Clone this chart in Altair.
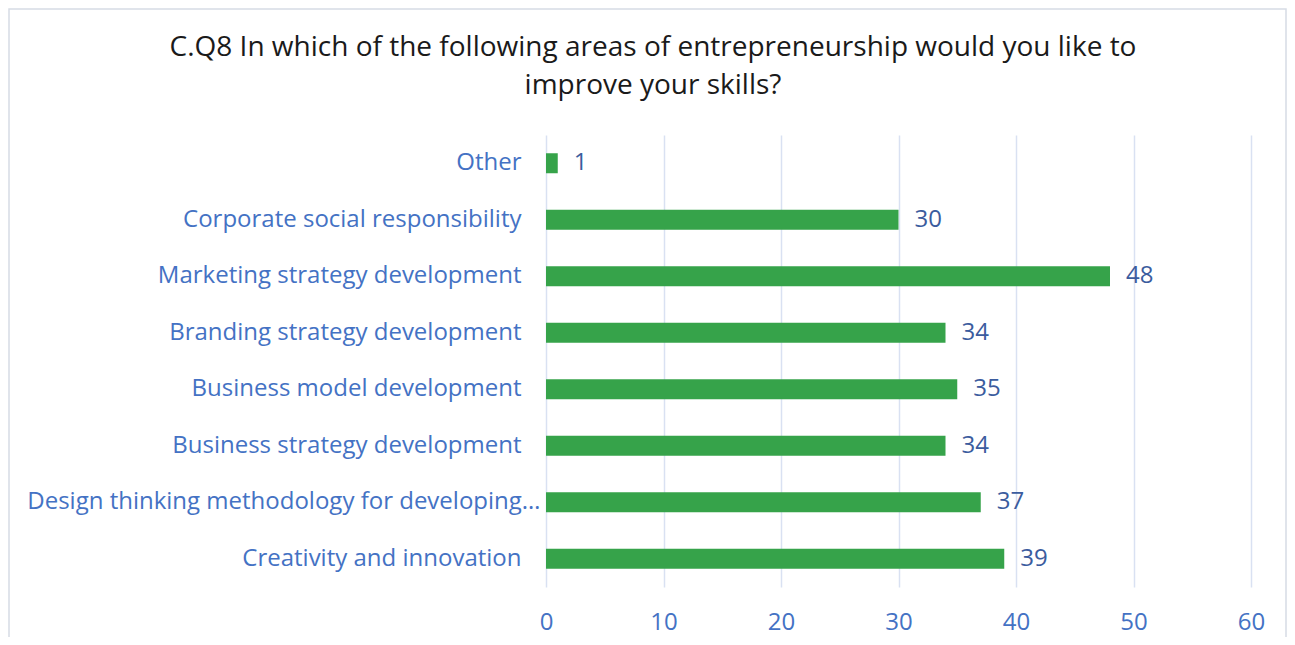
import altair as alt
import pandas as pd

categories = [
    "Other",
    "Corporate social responsibility",
    "Marketing strategy development",
    "Branding strategy development",
    "Business model development",
    "Business strategy development",
    "Design thinking methodology for developing…",
    "Creativity and innovation",
]
values = [1, 30, 48, 34, 35, 34, 37, 39]
x_ticks = [0, 10, 20, 30, 40, 50, 60]
title_lines = ["C.Q8 In which of the following areas of entrepreneurship would you like to",
               "improve your skills?"]

df = pd.DataFrame({"cat": categories, "val": values})

FONT = "Open Sans"
BLUE = "#4472C4"
GRID = "#D9E1F2"

y_enc = alt.Y("cat:N", sort=None, title=None,
              scale=alt.Scale(paddingInner=0.646, paddingOuter=0.323),
              axis=alt.Axis(domain=False, ticks=False, labelFontSize=24, labelFont=FONT,
                            labelColor=BLUE,
                            labelPadding={"condition": {"test": "indexof(datum.value, 'Design') == 0", "value": 6}, "value": 25},
                            labelLimit=600, grid=False))
x_enc = alt.X("val:Q", title=None,
              scale=alt.Scale(domain=[0, 60], nice=False),
              axis=alt.Axis(values=x_ticks, domain=False, ticks=False, grid=True,
                            gridColor=GRID, gridWidth=1.5, labelFontSize=24, labelFont=FONT,
                            labelColor=BLUE, labelPadding=23, labelFlush=False))

bars = alt.Chart(df).mark_bar(color="#36A34A").encode(x=x_enc, y=y_enc)
labels = alt.Chart(df).mark_text(align="left", baseline="middle", dx=16, fontSize=24,
                                 font=FONT, color="#3B5C9E").encode(
    x="val:Q", y=alt.Y("cat:N", sort=None), text="val:Q")

border = alt.Chart(pd.DataFrame({"k": [0]})).mark_rect(
    fill=None, stroke="#D6DCE5", strokeWidth=1.5).encode(
    x=alt.value(-537), x2=alt.value(740), y=alt.value(-126), y2=alt.value(530))

t1 = alt.Chart(pd.DataFrame({"t": [title_lines[0]]})).mark_text(
    font=FONT, fontSize=28, fontWeight="normal", color="#1A1A1A",
    align="center", baseline="middle").encode(
    x=alt.value(107), y=alt.value(-87), text="t:N")
t2 = alt.Chart(pd.DataFrame({"t": [title_lines[1]]})).mark_text(
    font=FONT, fontSize=28, fontWeight="normal", color="#1A1A1A",
    align="center", baseline="middle").encode(
    x=alt.value(107), y=alt.value(-49), text="t:N")

chart = alt.layer(border, bars, labels, t1, t2).properties(
    width=705, height=452,
    padding={"left": 538, "top": 127, "right": 36, "bottom": 50},
    autosize=alt.AutoSizeParams(type="none"),
).configure_view(stroke=None)

chart.save("out.html", embed_options={"renderer": "svg", "actions": False})
